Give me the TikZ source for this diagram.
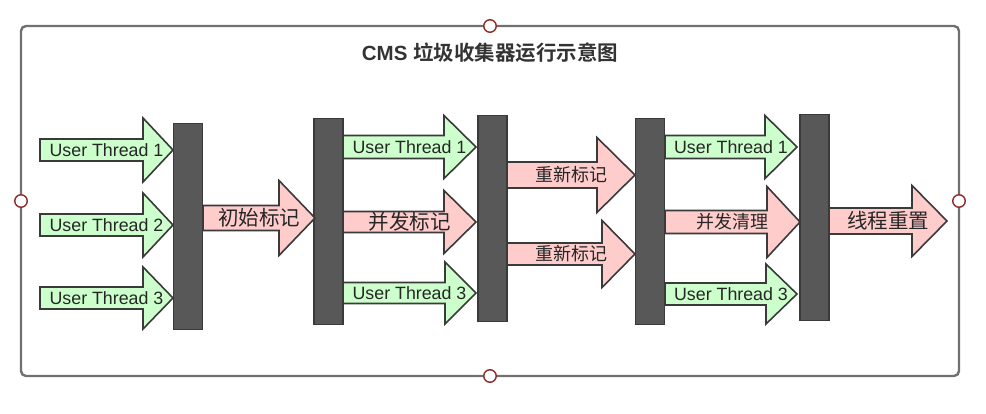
\documentclass[tikz,border=0pt]{standalone}
\usepackage{fontspec}
\setmainfont{Liberation Sans}
\newfontfamily\cjk{Noto Sans CJK SC}[BoldFont=Noto Sans CJK SC Bold]
\definecolor{threadgreen}{HTML}{CCFFCC}
\definecolor{gcred}{HTML}{FFCCCC}
\definecolor{bargray}{HTML}{585858}
\definecolor{edgegray}{HTML}{3A3A3A}
\definecolor{framegray}{HTML}{707070}
\definecolor{handlered}{HTML}{8E2A2A}
\newcommand{\bigcn}{\cjk\fontsize{20.5}{21}\selectfont}
\newcommand{\smallcn}{\cjk\fontsize{18}{19}\selectfont}
% #1 style, #2 start x, #3 tip x, #4 mid y, #5 half shaft, #6 half head, #7 head length, #8 name, #9 text
\newcommand{\flowarrow}[9]{%
  \draw[#1] (#2,#4-#5) -- (#3-#7,#4-#5) -- (#3-#7,#4-#6) -- (#3,#4)
    -- (#3-#7,#4+#6) -- (#3-#7,#4+#5) -- (#2,#4+#5) -- cycle;
  \node[flowtext] (#8) at ({(#2+#3)/2},#4) {#9};}
\tikzset{
  frame/.style={draw=framegray, line width=2.4pt, rounded corners=5pt},
  handle/.style={circle, draw=handlered, fill=white, line width=1.4pt, minimum size=12.5pt, inner sep=0pt},
  bar/.style={draw=edgegray, fill=bargray, line width=1.3pt, minimum width=29pt, minimum height=206pt, inner sep=0pt},
  userflow/.style={draw=edgegray, fill=threadgreen, line width=1.6pt},
  gcflow/.style={draw=edgegray, fill=gcred, line width=1.6pt},
  flowtext/.style={inner sep=0pt, text=black!85, font=\fontsize{17.8}{18}\selectfont},
}
\begin{document}
\begin{tikzpicture}[x=1pt,y=-1pt]
\useasboundingbox (0,0) rectangle (986,414);
% frame and title
\draw[frame] (21,26) rectangle (959,376);
\node[font=\bfseries\fontsize{20.5}{21}\selectfont, text=black!80] (title) at (490,53)
  {CMS {\cjk 垃圾收集器运行示意图}};
\node[handle] (htop) at (490,26) {};
\node[handle] (hbottom) at (490,376) {};
\node[handle] (hleft) at (21,201) {};
\node[handle] (hright) at (959,201) {};
% safepoint bars
\node[bar] (g1) at (188,226.5) {};
\node[bar] (g2) at (328.5,221.5) {};
\node[bar] (g3) at (492.5,218.5) {};
\node[bar] (g4) at (650,221.5) {};
\node[bar] (g5) at (814.5,217.5) {};
% stage 1
\flowarrow{userflow}{40}{173}{150}{11}{32}{30}{a1}{User Thread 1}
\flowarrow{userflow}{40}{173}{225}{11}{32}{30}{a2}{User Thread 2}
\flowarrow{userflow}{40}{173}{298}{11}{31}{30}{a3}{User Thread 3}
\flowarrow{gcflow}{203}{315}{218}{12.5}{37.5}{36}{init}{\bigcn 初始标记}
% stage 2
\flowarrow{userflow}{343}{476}{147}{11.5}{31.5}{32}{b1}{User Thread 1}
\flowarrow{gcflow}{343}{476}{222}{10.5}{31.5}{32}{mark}{\bigcn 并发标记}
\flowarrow{userflow}{343}{476}{293}{10.5}{31}{31}{b3}{User Thread 3}
% stage 3
\flowarrow{gcflow}{507}{635}{175}{13}{37.5}{38}{remark1}{\smallcn 重新标记}
\flowarrow{gcflow}{507}{635}{254}{11}{33.5}{33}{remark2}{\smallcn 重新标记}
% stage 4
\flowarrow{userflow}{665}{797}{147}{11.5}{31.5}{32}{c1}{User Thread 1}
\flowarrow{gcflow}{665}{800}{222}{11.5}{35.5}{33}{sweep}{\smallcn 并发清理}
\flowarrow{userflow}{665}{797}{294}{11}{30}{31}{c3}{User Thread 3}
% stage 5
\flowarrow{gcflow}{829}{947}{221}{13}{35.5}{35}{reset}{\bigcn 线程重置}
\end{tikzpicture}
\end{document}
